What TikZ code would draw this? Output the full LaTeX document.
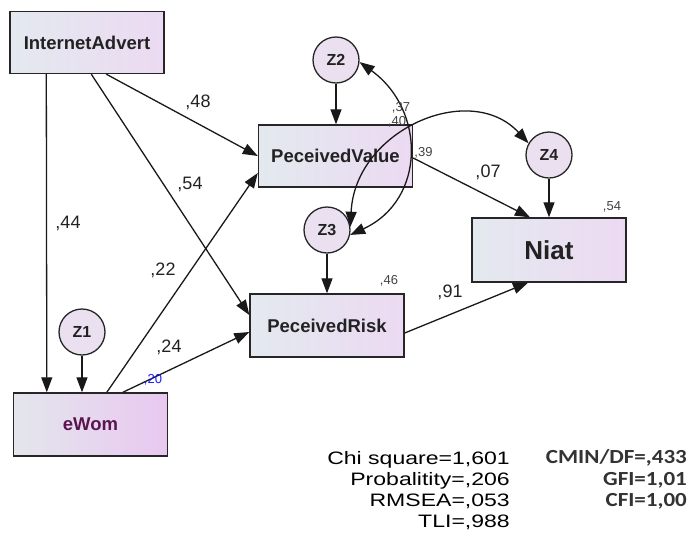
\documentclass[tikz,border=0pt]{standalone}
\usepackage{fontspec}
\setmainfont{Liberation Sans}
\newfontfamily\statfont[FakeStretch=1.28]{Liberation Sans}
\newfontfamily\cfont[FakeStretch=1.15]{Carlito}
\usetikzlibrary{arrows.meta,calc}
\definecolor{boxL}{HTML}{E3E9EF}
\definecolor{boxR}{HTML}{ECDAF2}
\definecolor{ewL}{HTML}{E4E6EC}
\definecolor{ewR}{HTML}{E8C8F0}
\definecolor{circ}{HTML}{EAE0F0}
\definecolor{ewtext}{HTML}{5A1550}
\definecolor{txt}{HTML}{222222}
\definecolor{r2blue}{HTML}{1A1AFF}
\begin{document}
\begin{tikzpicture}[x=1pt,y=-1pt,
  box/.style={draw=black!85, line width=1.4pt, minimum width=154pt, minimum height=62pt,
    left color=boxL, right color=boxR, text=txt, inner sep=0pt,
    font=\fontsize{18.5}{20}\selectfont\bfseries},
  err/.style={circle, draw=black!85, line width=1.3pt, minimum size=46pt, inner sep=0pt,
    fill=circ, text=txt, font=\fontsize{16}{18}\selectfont\bfseries},
  arr/.style={line width=1.3pt, draw=black!90, -{Triangle[length=15pt,width=11pt]}},
  cov/.style={line width=1.3pt, draw=black!90, {Triangle[length=15pt,width=11pt]}-{Triangle[length=15pt,width=11pt]}},
  coef/.style={font=\fontsize{18}{20}\selectfont, text=txt, inner sep=0pt},
  rsq/.style={font=\fontsize{13}{14}\selectfont, text=txt!85, inner sep=0pt},
  statl/.style={font=\statfont\fontsize{18}{20}\selectfont, text=black, inner sep=0pt, anchor=east},
  statr/.style={font=\cfont\fontsize{20}{22}\selectfont\bfseries, text=black!80, inner sep=0pt, anchor=east}
]
\useasboundingbox (0,0) rectangle (692,550);

% nodes
\node[box] (IA) at (87,42.5) {InternetAdvert};
\node[box] (PV) at (335.5,156) {PeceivedValue};
\node[box, minimum height=64pt, font=\fontsize{26}{28}\selectfont\bfseries] (Niat) at (549,250) {Niat};
\node[box, minimum height=63pt] (PR) at (327,325.5) {PeceivedRisk};
\node[box, minimum height=63pt, left color=ewL, right color=ewR, text=ewtext] (eWom) at (90.5,424.5) {eWom};

\node[err] (Z1) at (82,332) {Z1};
\node[err] (Z2) at (336,60) {Z2};
\node[err] (Z3) at (327,230) {Z3};
\node[err] (Z4) at (549,155) {Z4};

% regression paths
\draw[arr] ([xshift=37pt]IA.south west) -- ([xshift=34pt]eWom.north west);
\draw[arr] ([xshift=97pt]IA.south west) -- (PV.west);
\draw[arr] ([xshift=82pt]IA.south west) -- ([yshift=10.5pt]PR.west);
\draw[arr] ([xshift=94pt]eWom.north west) -- ([yshift=-17pt]PV.west);
\draw[arr] ([xshift=110pt]eWom.north west) -- ([yshift=-6.5pt]PR.west);
\draw[arr] ([yshift=-2pt]PV.east) -- ([xshift=-19pt]Niat.north);
\draw[arr] ([yshift=-7.5pt]PR.east) -- ([xshift=-21pt]Niat.south);

% error terms
\draw[arr] (Z1) -- (Z1 |- eWom.north);
\draw[arr] (Z2) -- (Z2 |- PV.north);
\draw[arr] (Z3) -- (Z3 |- PR.north);
\draw[arr] (Z4) -- (Z4 |- Niat.north);

% covariances
\draw[cov] (Z2.-5) .. controls (426,110) and (426,200) .. (Z3.-12);
\draw[cov] (Z3.8) .. controls (355,130) and (470,80) .. (Z4.150);

% coefficients
\node[coef] (c44) at (68,223) {,44};
\node[coef] (c48) at (198,102) {,48};
\node[coef] (c54) at (190,184) {,54};
\node[coef] (c22) at (163,270) {,22};
\node[coef] (c24) at (169,347) {,24};
\node[coef] (c07) at (488,172) {,07};
\node[coef] (c91) at (450,292) {,91};

% squared multiple correlations and covariances
\node[rsq, text=r2blue] (r20) at (153,380) {,20};
\node[rsq] (r54) at (612,207) {,54};
\node[rsq] (r46) at (389,281) {,46};
\node[rsq] (r39) at (423.5,153) {,39};
\node[rsq] (k37) at (401,107.5) {,37};
\node[rsq] (k40) at (397,121.5) {,40};

% fit statistics
\node[statl] (s1) at (510,460) {Chi square=1,601};
\node[statl] (s2) at (510,480.5) {Probalitity=,206};
\node[statl] (s3) at (510,501) {RMSEA=,053};
\node[statl] (s4) at (510,522) {TLI=,988};
\node[statr] (t1) at (687,458) {CMIN/DF=,433};
\node[statr] (t2) at (687,480) {GFI=1,01};
\node[statr] (t3) at (687,501) {CFI=1,00};
\end{tikzpicture}
\end{document}
